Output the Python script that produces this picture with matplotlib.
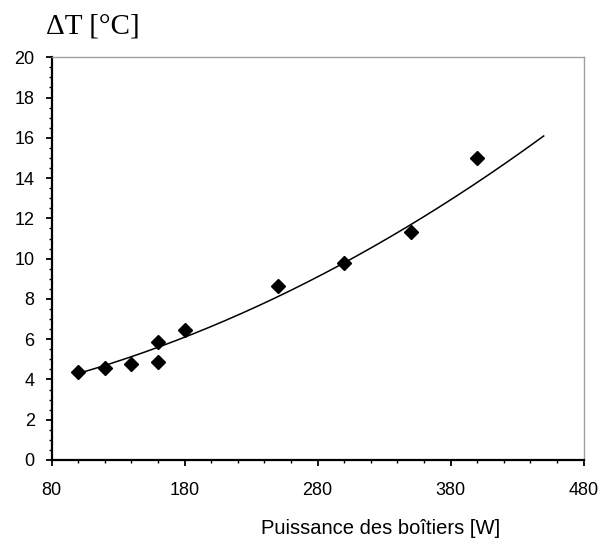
import numpy as np
import matplotlib.pyplot as plt
from matplotlib.ticker import FixedLocator, MultipleLocator

# puissance des boitiers [W] et ecart de temperature [degC]
puissance = [100, 120, 140, 160, 160, 180, 250, 300, 350, 400]
delta_t = [4.35, 4.55, 4.76, 5.87, 4.88, 6.45, 8.64, 9.79, 11.33, 15.02]
x_ticks = [80, 180, 280, 380, 480]

# courbe de tendance polynomiale (ordre 2)
trend_coef = [4.14e-5, 0.01093, 2.79]
trend_start, trend_end = 100, 450

plt.rcParams["font.family"] = ["Liberation Sans", "DejaVu Sans"]

fig = plt.figure(figsize=(6.01, 5.42), dpi=100)
ax = fig.add_axes([0.086, 0.1513, 0.885, 0.743])

xs = np.linspace(trend_start, trend_end, 200)
ax.plot(xs, np.polyval(trend_coef, xs), color="black", lw=1.1)
ax.plot(puissance, delta_t, linestyle="none", marker="D", markersize=7,
        color="black", clip_on=False)

ax.set_xlim(80, 480)
ax.set_ylim(0, 20)
ax.xaxis.set_major_locator(FixedLocator(x_ticks))
ax.xaxis.set_minor_locator(MultipleLocator(20))
ax.yaxis.set_major_locator(MultipleLocator(2))
ax.yaxis.set_minor_locator(MultipleLocator(0.5))

for side in ["top", "right"]:
    ax.spines[side].set_color("#a0a0a0")
    ax.spines[side].set_linewidth(1.0)
for side in ["left", "bottom"]:
    ax.spines[side].set_color("black")
    ax.spines[side].set_linewidth(1.6)

ax.tick_params(which="major", direction="out", length=4.2, width=1.3,
               labelsize=13, pad=8)
ax.tick_params(axis="x", which="major", pad=12)
ax.tick_params(which="minor", direction="out", length=2.5, width=1.0)

fig.text(46 / 601, 1 - 34 / 542, "\u0394T [\u00b0C]", fontsize=21,
         family=["Liberation Serif", "DejaVu Serif"], ha="left",
         va="baseline")
fig.text(381 / 601, 1 - 528 / 542, "Puissance des bo\u00eetiers [W]",
         fontsize=14.5, ha="center", va="center")

plt.savefig("out.png", dpi=100)
